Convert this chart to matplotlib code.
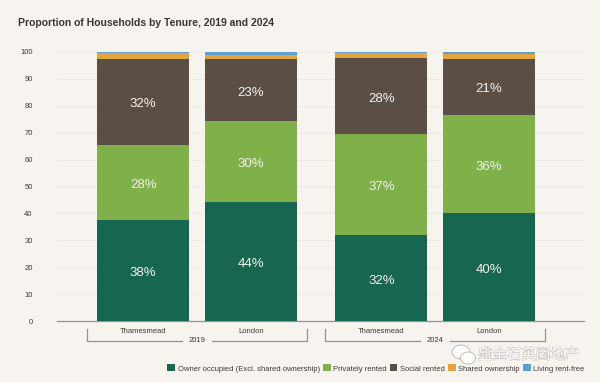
import numpy as np
import matplotlib
matplotlib.use('Agg')
import matplotlib.pyplot as plt
import matplotlib.patheffects as pe
from matplotlib.patches import Patch, Ellipse

plt.rcParams['font.family'] = ['Liberation Sans', 'Noto Sans CJK SC', 'DejaVu Sans']

# values
places = ['Thamesmead', 'London', 'Thamesmead', 'London']
years = ['2019', '2024']
owner = [37.5, 44.3, 32.0, 40.0]
private = [28.0, 30.1, 37.5, 36.7]
social = [32.0, 23.0, 28.3, 20.7]
shared = [2.1, 1.5, 1.75, 1.75]
rent_free = [0.4, 1.1, 0.45, 0.85]
owner_lab = ['38%', '44%', '32%', '40%']
private_lab = ['28%', '30%', '37%', '36%']
social_lab = ['32%', '23%', '28%', '21%']
series_names = ['Owner occupied (Excl. shared ownership)', 'Privately rented', 'Social rented',
                'Shared ownership', 'Living rent-free']

bg = '#f7f4f0'
colors = ['#17664f', '#7fb04a', '#5a4e45', '#e2a541', '#5b9fd4']
txt_c = '#3c3a38'
W, H = 600, 382

fig = plt.figure(figsize=(W/100, H/100), dpi=100, facecolor=bg)
ax = fig.add_axes([57/W, 1-321/H, (584-57)/W, (321-52)/H], facecolor=bg)

x = np.array([0, 1, 2.21, 3.21])
bottom = np.zeros(4)
all_series = [owner, private, social, shared, rent_free]
labels = [owner_lab, private_lab, social_lab, None, None]
for vals, c, lab in zip(all_series, colors, labels):
    vals = np.array(vals)
    ax.bar(x, vals, 0.855, bottom=bottom, color=c, zorder=3)
    if lab is not None:
        for xi, b, v, t in zip(x, bottom, vals, lab):
            ax.annotate(t, (xi, b+v/2), xytext=(0, -1.9), textcoords='offset points', color='#f5f2ee',
                        fontsize=9.5, ha='center', va='center', zorder=4)
    bottom += vals

ax.set_xlim(-0.8, 4.09)
ax.set_ylim(0, 100)
ax.set_yticks(range(0, 101, 10))
ax.yaxis.grid(True, color='#e3dfda', lw=0.7, ls=(0, (1, 1)), zorder=0)
ax.tick_params(axis='y', length=0, labelsize=5.5, labelcolor=txt_c, pad=17.5)
ax.set_xticks(x)
ax.set_xticklabels(places, fontsize=5.5, color=txt_c)
ax.tick_params(axis='x', length=0, pad=5)
for s in ['top', 'left', 'right']:
    ax.spines[s].set_visible(False)
ax.spines['bottom'].set_color('#96928c')
ax.spines['bottom'].set_linewidth(0.9)

# year brackets under the axis
tr = ax.get_xaxis_transform()
line_c = '#96928c'
for (a, b), yr in zip([(0, 1), (2, 3)], years):
    x0, x1 = x[a]-0.52, x[b]+0.52
    mid = (x0+x1)/2
    y_top, y_bot = -0.028, -0.073
    ax.plot([x0, x0, mid-0.14], [y_top, y_bot, y_bot], transform=tr, color=line_c, lw=0.9, clip_on=False)
    ax.plot([mid+0.14, x1, x1], [y_bot, y_bot, y_top], transform=tr, color=line_c, lw=0.9, clip_on=False)
    ax.text(mid, y_bot, yr, transform=tr, fontsize=5.5, color=txt_c, ha='center', va='center')

fig.text(18/W, 1-23/H, 'Proportion of Households by Tenure, 2019 and 2024', fontsize=7.5,
         fontweight='bold', color='#3a3532', va='center')

handles = [Patch(facecolor=c) for c in colors]
fig.legend(handles, series_names, loc='center right', bbox_to_anchor=(584.5/W, 1-368.5/H), ncol=5, frameon=False,
           fontsize=5.5, labelcolor=txt_c, handlelength=1.0, handleheight=1.0, handletextpad=0.33,
           columnspacing=0.42, borderpad=0, borderaxespad=0)

# watermark
outline = [pe.withStroke(linewidth=0.45, foreground='#a09d9a')]
fig.text(478/W, 1-355/H, '盛金石英国地产', fontsize=10.4, color='#ffffff', va='center', path_effects=outline)
for cx, cy, rx, ry in [(461, 352, 9, 7), (468, 358, 7.5, 6)]:
    fig.add_artist(Ellipse((cx/W, 1-cy/H), 2*rx/W, 2*ry/H, transform=fig.transFigure,
                           facecolor='#ffffff', edgecolor='#a8a5a2', lw=0.5))

fig.savefig('out.png', dpi=100, facecolor=bg)
